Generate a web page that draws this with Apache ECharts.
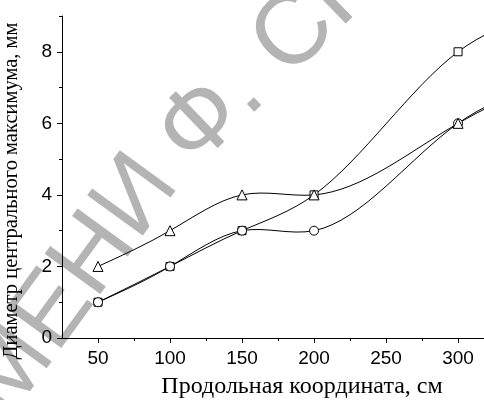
<!DOCTYPE html>
<html>
<head>
<meta charset="utf-8">
<script src="https://cdn.jsdelivr.net/npm/echarts@6/dist/echarts.min.js"></script>
<style>
html, body { margin: 0; padding: 0; background: #fff; }
#chart { width: 484px; height: 400px; }
</style>
</head>
<body>
<div id="chart"></div>
<script>
// data (last point lies past the visible axis end)
const xValues = [50, 100, 150, 200, 300, 350];
const squareValues = [1, 2, 3, 4, 8, 9];
const circleValues = [1, 2, 3, 3, 6, 7];
const triangleValues = [2, 3, 4, 4, 6, 7];

const xTickLabels = [50, 100, 150, 200, 250, 300];
const xMinorTicks = [75, 125, 175, 225, 275];
const yTickLabels = [0, 2, 4, 6, 8];
const yMinorTicks = [1, 3, 5, 7, 9];

const xTitle = 'Продольная координата, см';
const yTitle = 'Диаметр центрального максимума, мм';

const chart = echarts.init(document.getElementById('chart'));

const pairs = (ys) => xValues.map((x, i) => [x, ys[i]]);

// slopes of a natural cubic spline through the points (the original plot joins points with a spline)
const splineSlopes = (xs, ys) => {
  const n = xs.length;
  const h = [];
  const M = new Array(n).fill(0);
  for (let i = 0; i < n - 1; i++) h.push(xs[i + 1] - xs[i]);
  const a = [], b = [], c = [], d = [];
  for (let i = 1; i < n - 1; i++) {
    a.push(h[i - 1]);
    b.push(2 * (h[i - 1] + h[i]));
    c.push(h[i]);
    d.push(6 * ((ys[i + 1] - ys[i]) / h[i] - (ys[i] - ys[i - 1]) / h[i - 1]));
  }
  const m = d.length;
  for (let i = 1; i < m; i++) {
    const w = a[i] / b[i - 1];
    b[i] -= w * c[i - 1];
    d[i] -= w * d[i - 1];
  }
  const sol = new Array(m);
  sol[m - 1] = d[m - 1] / b[m - 1];
  for (let i = m - 2; i >= 0; i--) sol[i] = (d[i] - c[i] * sol[i + 1]) / b[i];
  for (let i = 1; i < n - 1; i++) M[i] = sol[i - 1];
  const slopes = [];
  for (let i = 0; i < n - 1; i++) {
    slopes.push((ys[i + 1] - ys[i]) / h[i] - h[i] * (2 * M[i] + M[i + 1]) / 6);
  }
  slopes.push((ys[n - 1] - ys[n - 2]) / h[n - 2] + h[n - 2] * (M[n - 2] + 2 * M[n - 1]) / 6);
  return slopes;
};

// one bezier piece per data interval, placed through the axes with api.coord
const curveSeries = (ys) => {
  const slopes = splineSlopes(xValues, ys);
  return {
    type: 'custom',
    data: pairs(ys),
    encode: { x: 0, y: 1 },
    clip: true,
    silent: true,
    z: 2,
    renderItem: (params, api) => {
      const i = params.dataIndex;
      if (i >= xValues.length - 1) return null;
      const x0 = xValues[i];
      const x1 = xValues[i + 1];
      const h = x1 - x0;
      const p0 = api.coord([x0, ys[i]]);
      const p1 = api.coord([x1, ys[i + 1]]);
      const c0 = api.coord([x0 + h / 3, ys[i] + slopes[i] * h / 3]);
      const c1 = api.coord([x1 - h / 3, ys[i + 1] - slopes[i + 1] * h / 3]);
      return {
        type: 'bezierCurve',
        shape: {
          x1: p0[0], y1: p0[1], x2: p1[0], y2: p1[1],
          cpx1: c0[0], cpy1: c0[1], cpx2: c1[0], cpy2: c1[1],
        },
        style: { stroke: '#000', lineWidth: 1, fill: null },
      };
    },
  };
};

const markerSeries = (ys, symbol, size) => ({
  type: 'scatter',
  data: pairs(ys),
  symbol,
  symbolSize: size,
  clip: true,
  itemStyle: { color: '#fff', borderColor: '#000', borderWidth: 1, opacity: 1 },
  emphasis: { disabled: true },
  z: 3,
});

const axisBase = {
  type: 'value',
  splitLine: { show: false },
  axisLine: { show: true, onZero: false, lineStyle: { color: '#000', width: 1 } },
};

const watermarkFont = '100px "Liberation Sans", Arial, sans-serif';

const option = {
  animation: false,
  grid: { left: 62, top: 16, right: 0, bottom: 62, containLabel: false },
  xAxis: [
    Object.assign({}, axisBase, {
      position: 'bottom',
      min: 25,
      max: 318,
      axisTick: { show: true, customValues: xTickLabels, length: 5, lineStyle: { color: '#000' } },
      axisLabel: {
        customValues: xTickLabels,
        color: '#000',
        fontFamily: '"Liberation Sans", Arial, sans-serif',
        fontSize: 19,
        margin: 11,
      },
    }),
    Object.assign({}, axisBase, {
      position: 'bottom',
      min: 25,
      max: 318,
      axisLine: { show: false },
      axisTick: { show: true, customValues: xMinorTicks, length: 3, lineStyle: { color: '#000' } },
      axisLabel: { show: false },
    }),
  ],
  yAxis: [
    Object.assign({}, axisBase, {
      position: 'left',
      min: 0,
      max: 9,
      axisTick: { show: true, customValues: yTickLabels, length: 5, lineStyle: { color: '#000' } },
      axisLabel: {
        customValues: yTickLabels,
        color: '#000',
        fontFamily: '"Liberation Sans", Arial, sans-serif',
        fontSize: 19,
        margin: 10,
      },
    }),
    Object.assign({}, axisBase, {
      position: 'left',
      min: 0,
      max: 9,
      axisLine: { show: false },
      axisTick: { show: true, customValues: yMinorTicks, length: 3, lineStyle: { color: '#000' } },
      axisLabel: { show: false },
    }),
  ],
  graphic: [
    // watermark of the source scan
    {
      type: 'text', x: 158, y: 168, rotation: 54 * Math.PI / 180, z: -10, silent: true,
      style: {
        text: 'ИМЕНИ', font: watermarkFont, fill: '#b4b4b4',
        align: 'right', verticalAlign: 'middle', textAlign: 'right', textVerticalAlign: 'middle',
      },
    },
    {
      type: 'text', x: 174, y: 151, rotation: 44 * Math.PI / 180, z: -10, silent: true,
      style: {
        text: 'Ф. СКОРИНЫ', font: watermarkFont, fill: '#b4b4b4',
        align: 'left', verticalAlign: 'middle', textAlign: 'left', textVerticalAlign: 'middle',
      },
    },
    {
      type: 'text', x: 12, y: 191, rotation: Math.PI / 2, z: 10,
      style: {
        text: yTitle, font: '20.5px "Liberation Serif", "Times New Roman", serif', fill: '#000',
        align: 'center', verticalAlign: 'middle', textAlign: 'center', textVerticalAlign: 'middle',
      },
    },
    {
      type: 'text', x: 302, y: 387, z: 10,
      style: {
        text: xTitle, font: '24px "Liberation Serif", "Times New Roman", serif', fill: '#000',
        align: 'center', verticalAlign: 'middle', textAlign: 'center', textVerticalAlign: 'middle',
      },
    },
  ],
  series: [
    curveSeries(squareValues),
    curveSeries(circleValues),
    curveSeries(triangleValues),
    markerSeries(squareValues, 'rect', 8),
    markerSeries(circleValues, 'circle', 9),
    markerSeries(triangleValues, 'triangle', 10),
  ],
};

chart.setOption(option);
</script>
</body>
</html>
